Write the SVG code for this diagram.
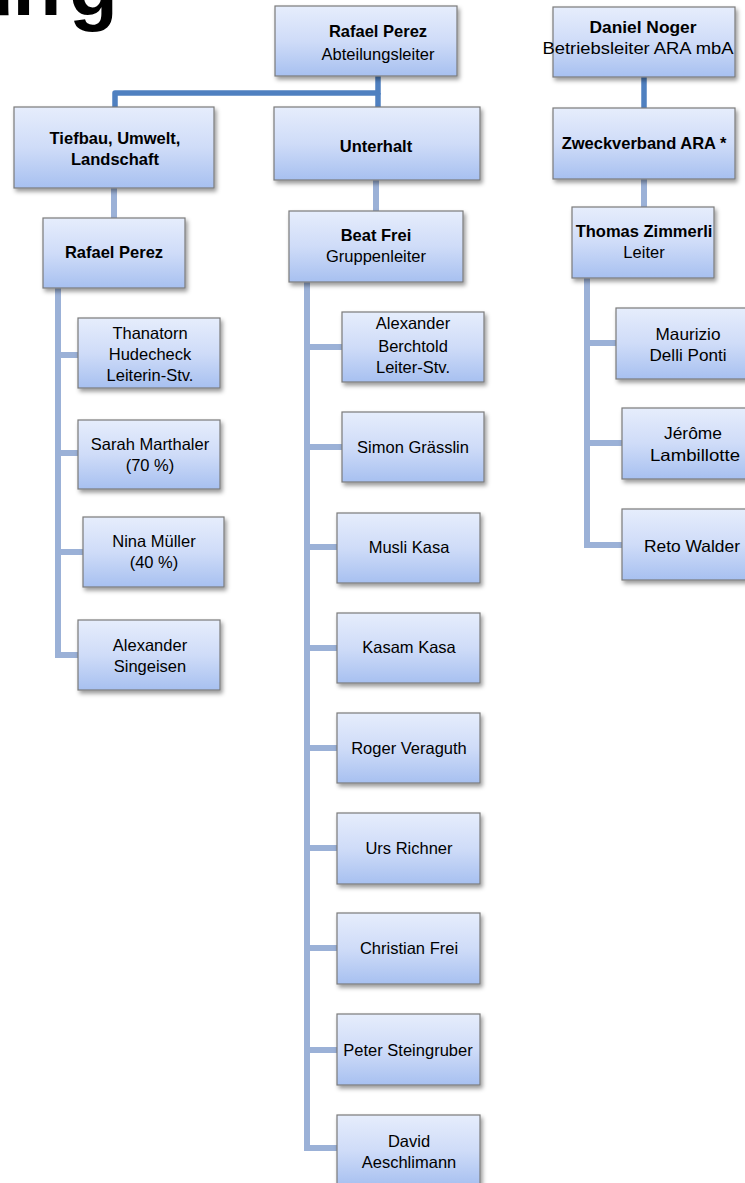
<svg xmlns="http://www.w3.org/2000/svg" width="745" height="1183" viewBox="0 0 745 1183">
<defs>
<linearGradient id="g" x1="0" y1="0" x2="0" y2="1">
<stop offset="0" stop-color="#e6edfc"/>
<stop offset="0.5" stop-color="#cfdcf8"/>
<stop offset="1" stop-color="#a7c0f0"/>
</linearGradient>
<filter id="sh" x="-10%" y="-10%" width="130%" height="140%">
<feDropShadow dx="2" dy="3" stdDeviation="2" flood-color="#000" flood-opacity="0.4"/>
</filter>
</defs>
<style>
.box{fill:url(#g);stroke:#7b7b7b;stroke-width:1.2;filter:url(#sh)}
text{font-family:"Liberation Sans",Arial,sans-serif;font-size:16.5px;fill:#000;text-anchor:middle}
.b{font-weight:bold}
.title{font-size:80px;font-weight:bold;text-anchor:start}
.dk{fill:none;stroke:#4f80c0;stroke-width:5.5;stroke-linejoin:round}
.lt{fill:none;stroke:#9bb1d7;stroke-width:6}
</style>
<rect width="745" height="1183" fill="#fff"/>
<text class="title" x="-35 12.5 69" y="15">ung</text>
<g id="connectors">
<path class="dk" d="M378,76 V93 H115 V107"/>
<path class="dk" d="M378,93 V107"/>
<path class="dk" d="M644,77 V108"/>
<path class="lt" d="M114,188 V218"/>
<path class="lt" d="M376,180 V211"/>
<path class="lt" d="M644,179 V207"/>
<path class="lt" d="M58,288 V655 H78 M58,355 H78 M58,453 H78 M58,552 H83"/>
<path class="lt" d="M307,282 V1148 H337 M307,347 H342 M307,447 H342 M307,547 H337 M307,648 H337 M307,748 H337 M307,848 H337 M307,948 H337 M307,1050 H337"/>
<path class="lt" d="M587,278 V545 H622 M587,343 H616 M587,443 H622"/>
</g>
<g id="n-rafael-top"><rect class="box" x="275" y="6" width="182" height="70"/><text class="b" x="378" y="37">Rafael Perez</text><text x="378" y="60">Abteilungsleiter</text></g>
<g id="n-daniel"><rect class="box" x="553" y="7" width="182" height="70"/><text class="b" x="643" y="33" textLength="107" lengthAdjust="spacingAndGlyphs">Daniel Noger</text><text x="638" y="54" textLength="191" lengthAdjust="spacingAndGlyphs">Betriebsleiter ARA mbA</text></g>
<g id="n-tiefbau"><rect class="box" x="14" y="107" width="200" height="81"/><text class="b" x="115" y="144">Tiefbau, Umwelt,</text><text class="b" x="115" y="165">Landschaft</text></g>
<g id="n-unterhalt"><rect class="box" x="274" y="107" width="206" height="73"/><text class="b" x="376" y="152">Unterhalt</text></g>
<g id="n-zweck"><rect class="box" x="553" y="108" width="182" height="71"/><text class="b" x="644" y="149">Zweckverband ARA *</text></g>
<g id="n-rafael-sub"><rect class="box" x="43" y="218" width="142" height="70"/><text class="b" x="114" y="258">Rafael Perez</text></g>
<g id="n-beat"><rect class="box" x="289" y="211" width="174" height="71"/><text class="b" x="376" y="241">Beat Frei</text><text x="376" y="262">Gruppenleiter</text></g>
<g id="n-thomas"><rect class="box" x="572" y="207" width="142" height="71"/><text class="b" x="644" y="237">Thomas Zimmerli</text><text x="644" y="258">Leiter</text></g>
<g id="n-thanatorn"><rect class="box" x="78" y="318" width="142" height="70"/><text x="150" y="339">Thanatorn</text><text x="150" y="360">Hudecheck</text><text x="150" y="381">Leiterin-Stv.</text></g>
<g id="n-sarah"><rect class="box" x="78" y="420" width="142" height="69"/><text x="150" y="450">Sarah Marthaler</text><text x="150" y="471">(70 %)</text></g>
<g id="n-nina"><rect class="box" x="83" y="517" width="141" height="70"/><text x="154" y="547">Nina Müller</text><text x="154" y="568">(40 %)</text></g>
<g id="n-singeisen"><rect class="box" x="78" y="620" width="142" height="70"/><text x="150" y="651">Alexander</text><text x="150" y="672">Singeisen</text></g>
<g id="n-berchtold"><rect class="box" x="342" y="312" width="142" height="70"/><text x="413" y="329">Alexander</text><text x="413" y="352">Berchtold</text><text x="413" y="373">Leiter-Stv.</text></g>
<g id="n-simon"><rect class="box" x="342" y="412" width="142" height="70"/><text x="413" y="453">Simon Grässlin</text></g>
<g id="n-musli"><rect class="box" x="337" y="513" width="143" height="70"/><text x="409" y="553">Musli Kasa</text></g>
<g id="n-kasam"><rect class="box" x="337" y="613" width="143" height="70"/><text x="409" y="653">Kasam Kasa</text></g>
<g id="n-roger"><rect class="box" x="337" y="713" width="143" height="70"/><text x="409" y="754">Roger Veraguth</text></g>
<g id="n-urs"><rect class="box" x="337" y="813" width="143" height="71"/><text x="409" y="854">Urs Richner</text></g>
<g id="n-christian"><rect class="box" x="337" y="913" width="143" height="71"/><text x="409" y="954">Christian Frei</text></g>
<g id="n-peter"><rect class="box" x="337" y="1014" width="143" height="71"/><text x="408" y="1056">Peter Steingruber</text></g>
<g id="n-david"><rect class="box" x="337" y="1115" width="143" height="71"/><text x="409" y="1147">David</text><text x="409" y="1168">Aeschlimann</text></g>
<g id="n-maurizio"><rect class="box" x="616" y="308" width="142" height="71"/><text x="688" y="340" textLength="65" lengthAdjust="spacingAndGlyphs">Maurizio</text><text x="688" y="361" textLength="77" lengthAdjust="spacingAndGlyphs">Delli Ponti</text></g>
<g id="n-jerome"><rect class="box" x="622" y="408" width="142" height="71"/><text x="693" y="439" textLength="58" lengthAdjust="spacingAndGlyphs">Jérôme</text><text x="695" y="461" textLength="90" lengthAdjust="spacingAndGlyphs">Lambillotte</text></g>
<g id="n-reto"><rect class="box" x="622" y="509" width="142" height="71"/><text x="692" y="552" textLength="96" lengthAdjust="spacingAndGlyphs">Reto Walder</text></g>
</svg>
